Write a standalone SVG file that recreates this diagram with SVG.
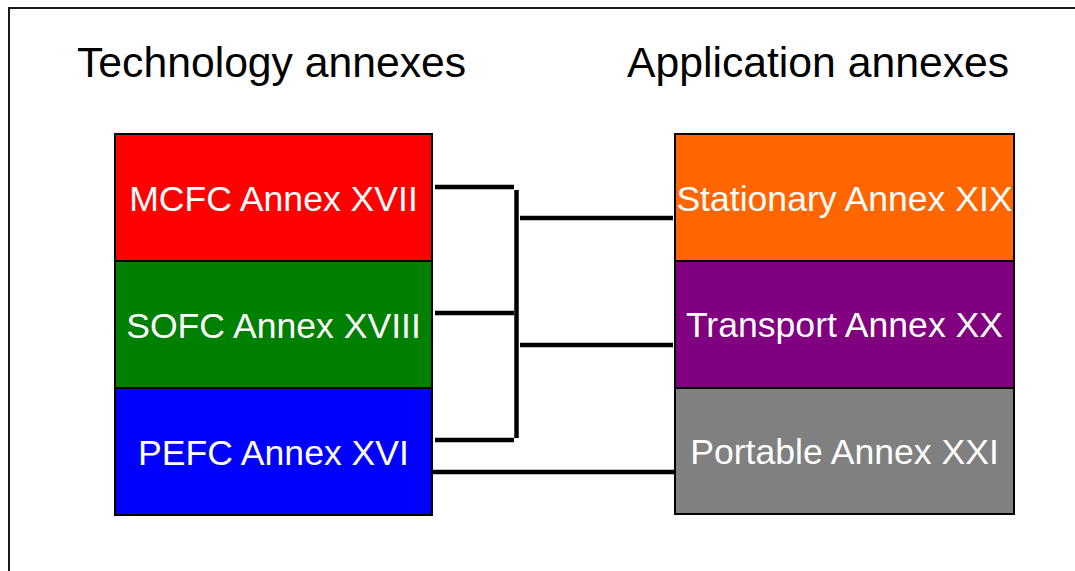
<svg xmlns="http://www.w3.org/2000/svg" width="1075" height="571" viewBox="0 0 1075 571">
<style>
.title{font-family:"Liberation Sans",Arial,sans-serif;font-size:42.7px;fill:#000}
.box{stroke:#000;stroke-width:2}
.lbl{font-family:"Liberation Sans",Arial,sans-serif;font-size:35.6px;fill:#fff;text-anchor:middle}
.conn{stroke:#000;stroke-width:4.5;fill:none}
</style>
<rect x="0" y="0" width="1075" height="571" fill="#fff"/>
<rect x="9" y="8" width="1100" height="600" fill="none" stroke="#1a1a1a" stroke-width="2"/>
<text class="title" x="77" y="77">Technology annexes</text>
<text class="title" x="627" y="77">Application annexes</text>
<g id="mcfc"><rect class="box" x="115" y="134" width="317" height="127" fill="#ff0000"/><text class="lbl" x="273.5" y="211">MCFC Annex XVII</text></g>
<g id="sofc"><rect class="box" x="115" y="261" width="317" height="127" fill="#008000"/><text class="lbl" x="273.5" y="338">SOFC Annex XVIII</text></g>
<g id="pefc"><rect class="box" x="115" y="388" width="317" height="127" fill="#0000ff"/><text class="lbl" x="273.5" y="465">PEFC Annex XVI</text></g>
<g id="stationary"><rect class="box" x="675" y="134" width="339" height="127" fill="#ff6600"/><text class="lbl" x="844.5" y="211">Stationary Annex XIX</text></g>
<g id="transport"><rect class="box" x="675" y="261" width="339" height="127" fill="#800080"/><text class="lbl" x="844.5" y="337">Transport Annex XX</text></g>
<g id="portable"><rect class="box" x="675" y="388" width="339" height="126" fill="#808080"/><text class="lbl" x="844.5" y="464">Portable Annex XXI</text></g>
<g id="connectors">
<line class="conn" x1="435" y1="187" x2="514" y2="187"/>
<line class="conn" x1="435" y1="313" x2="514" y2="313"/>
<line class="conn" x1="435" y1="440" x2="514" y2="440"/>
<line class="conn" x1="516.5" y1="190" x2="516.5" y2="438"/>
<line class="conn" x1="520" y1="218" x2="673" y2="218"/>
<line class="conn" x1="520" y1="345" x2="673" y2="345"/>
<line class="conn" x1="432" y1="472" x2="675" y2="472"/>
</g>
</svg>
